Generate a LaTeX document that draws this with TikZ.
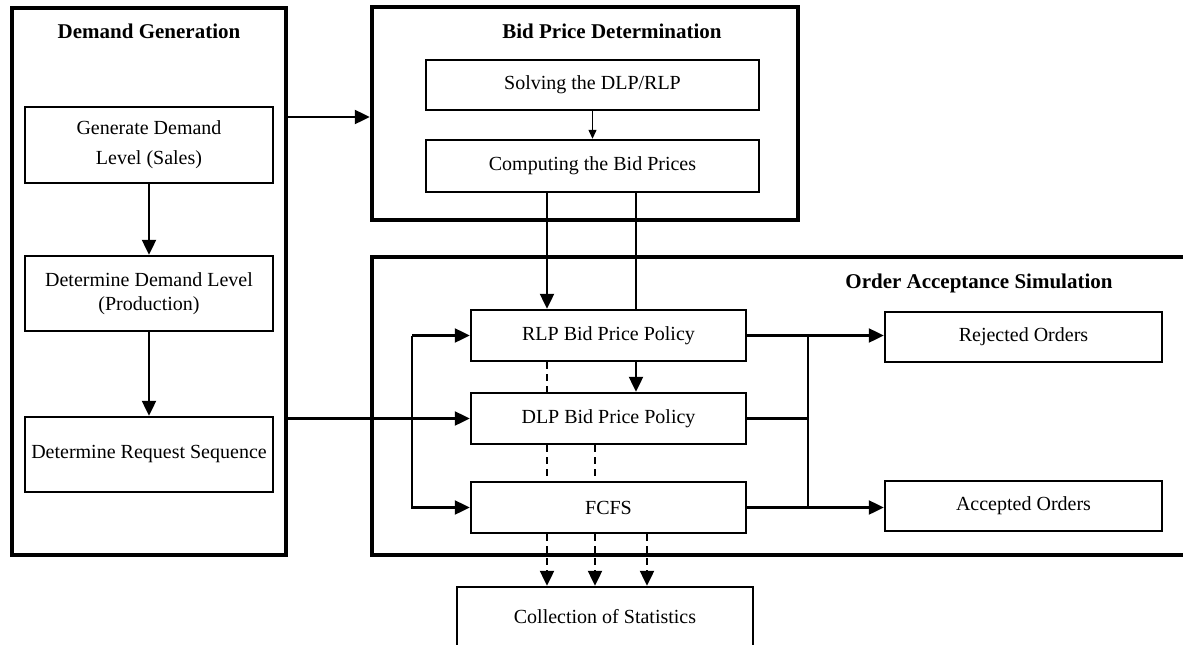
\documentclass[tikz,border=0pt]{standalone}
\usepackage{fontspec}
\setmainfont{Liberation Serif}
\usetikzlibrary{arrows.meta}
\tikzset{
  outer/.style={draw, line width=4.4pt, inner sep=0pt},
  box/.style={draw, line width=2.4pt, inner sep=0pt, align=center,
    font=\fontsize{20}{24}\selectfont},
  ttl/.style={inner sep=0pt, font=\fontsize{21}{24}\selectfont\bfseries},
  conn/.style={line width=2.2pt},
  arr/.style={conn, -{Triangle[length=15pt,width=14pt]}},
  thinarr/.style={line width=1.2pt, -{Triangle[length=9pt,width=8pt]}},
  dsh/.style={conn, dash pattern=on 7pt off 5pt},
  dsharr/.style={dsh, -{Triangle[length=15pt,width=14pt]}}
}
\begin{document}
\begin{tikzpicture}[x=1pt,y=-1pt]
\useasboundingbox (0,0) rectangle (1183,645);
\clip (0,0) rectangle (1183,645);
\fill[white] (0,0) rectangle (1183,645);
% group boxes
\node[outer, minimum width=274pt, minimum height=547pt] (dg) at (149,281.5) {};
\node[outer, minimum width=426pt, minimum height=213pt] (bp) at (585,113.5) {};
\node[outer, minimum width=828pt, minimum height=298pt] (oa) at (786,406) {};
% titles
\node[ttl] (dgt) at (149,31) {Demand Generation};
\node[ttl] (bpt) at (612,31) {Bid Price Determination};
\node[ttl] (oat) at (979,283) {Order Acceptance Simulation};
% demand generation
\node[box, minimum width=248pt, minimum height=76pt, font=\fontsize{20}{30}\selectfont] (gen) at (149,145) {Generate Demand\\Level (Sales)};
\node[box, minimum width=248pt, minimum height=75pt] (prod) at (149,293.5) {Determine Demand Level\\(Production)};
\node[box, minimum width=248pt, minimum height=75pt] (seq) at (149,454.5) {Determine Request Sequence};
% bid price
\node[box, minimum width=333pt, minimum height=50pt] (solve) at (592.5,85) {Solving the DLP/RLP};
\node[box, minimum width=333pt, minimum height=52pt] (comp) at (592.5,166) {Computing the Bid Prices};
% order acceptance
\node[box, minimum width=275pt, minimum height=51pt] (rlp) at (608.5,335.5) {RLP Bid Price Policy};
\node[box, minimum width=275pt, minimum height=51pt] (dlp) at (608.5,418.5) {DLP Bid Price Policy};
\node[box, minimum width=275pt, minimum height=51pt] (fcfs) at (608.5,507.5) {FCFS};
\node[box, minimum width=277pt, minimum height=50pt] (rej) at (1023.5,337) {Rejected Orders};
\node[box, minimum width=277pt, minimum height=50pt] (acc) at (1023.5,506) {Accepted Orders};
\node[box, minimum width=296pt, minimum height=60pt] (col) at (605,617) {Collection of Statistics};
% connectors: demand generation
\draw[arr] (gen.south) -- (prod.north);
\draw[arr] (prod.south) -- (seq.north);
\draw[arr] (dg.east |- 0,117) -- (bp.west |- 0,117);
\draw[arr] (dg.east |- dlp.west) -- (dlp.west);
% bid price
\draw[thinarr] (solve.south) -- (comp.north);
\draw[arr] (comp.south -| 547,0) -- (rlp.north -| 547,0);
\draw[conn] (comp.south -| 636,0) -- (rlp.north -| 636,0);
\draw[arr] (rlp.south -| 636,0) -- (dlp.north -| 636,0);
% left loop
\draw[arr] (rlp.west -| 412,0) -- (rlp.west);
\draw[arr] (rlp.west -| 412,0) -- (fcfs.west -| 412,0) -- (fcfs.west);
% dashed
\draw[dsh] (rlp.south -| 547,0) -- (dlp.north -| 547,0);
\draw[dsh] (dlp.south -| 547,0) -- (fcfs.north -| 547,0);
\draw[dsh] (dlp.south -| 595,0) -- (fcfs.north -| 595,0);
\draw[dsharr] (fcfs.south -| 547,0) -- (col.north -| 547,0);
\draw[dsharr] (fcfs.south -| 595,0) -- (col.north -| 595,0);
\draw[dsharr] (fcfs.south -| 647,0) -- (col.north -| 647,0);
% right side
\coordinate (jt) at (808,0);
\draw[arr] (rlp.east) -- (rlp.east -| rej.west);
\draw[conn] (rlp.east -| jt) -- (fcfs.east -| jt);
\draw[conn] (dlp.east) -- (dlp.east -| jt);
\draw[arr] (fcfs.east) -- (fcfs.east -| acc.west);
\end{tikzpicture}
\end{document}
